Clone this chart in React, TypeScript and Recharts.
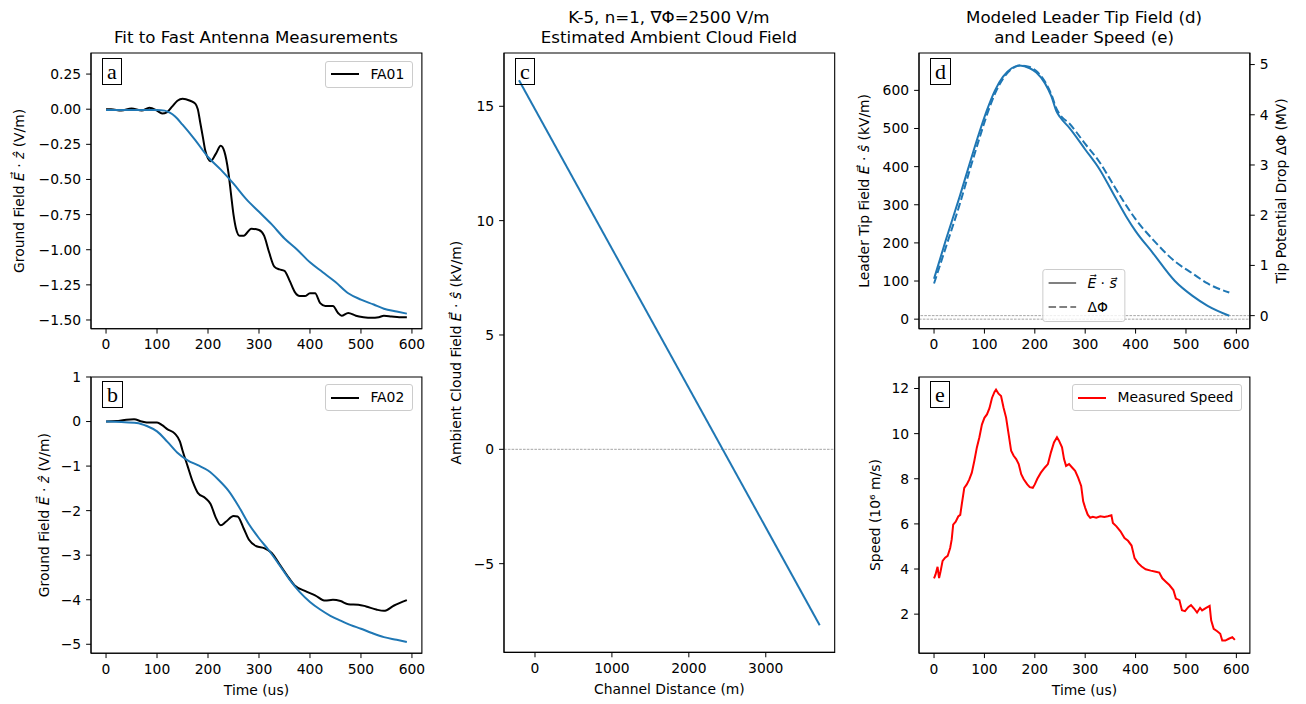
import React from 'react'
import { LineChart, Line, XAxis, YAxis, ReferenceArea, ReferenceLine, Legend } from 'recharts'

const FONT = '"DejaVu Sans", Verdana, sans-serif'
const SERIF = '"Liberation Serif", "DejaVu Serif", serif'
const BLUE = '#1f77b4'
const FS = 13.9

// tick labels
const timeTicks = [0, 100, 200, 300, 400, 500, 600]
const fieldTicksA = [0.25, 0, -0.25, -0.5, -0.75, -1, -1.25, -1.5]
const fieldTicksB = [1, 0, -1, -2, -3, -4, -5]
const distanceTicks = [0, 1000, 2000, 3000]
const ambientTicks = [15, 10, 5, 0, -5]
const tipFieldTicks = [0, 100, 200, 300, 400, 500, 600]
const potentialTicks = [0, 1, 2, 3, 4, 5]
const speedTicks = [2, 4, 6, 8, 10, 12]

// (a) FA01 measurement and model fit, V/m vs us
const fa01Time = [0, 10, 30, 50, 70, 85, 100, 110, 120, 130, 140, 150, 165, 175, 180, 185, 190, 195, 205, 215, 225, 232, 240, 245, 250, 255, 262, 270, 285, 300, 310, 320, 330, 340, 350, 360, 370, 380, 390, 400, 410, 420, 430, 445, 455, 462, 475, 490, 505, 520, 535, 545, 560, 575, 590]
const fa01Field = [0, 0, -0.01, 0.005, -0.01, 0.01, -0.01, -0.03, -0.02, 0.02, 0.06, 0.075, 0.06, 0.04, 0, -0.1, -0.2, -0.3, -0.37, -0.32, -0.26, -0.3, -0.45, -0.6, -0.75, -0.85, -0.9, -0.9, -0.85, -0.86, -0.9, -1.02, -1.12, -1.14, -1.15, -1.22, -1.3, -1.33, -1.33, -1.31, -1.31, -1.38, -1.4, -1.4, -1.45, -1.47, -1.45, -1.47, -1.48, -1.485, -1.48, -1.47, -1.475, -1.48, -1.48]
const fitATime = [0, 50, 100, 115, 125, 135, 150, 175, 200, 225, 250, 275, 300, 325, 350, 375, 400, 425, 450, 475, 500, 525, 545, 570, 590]
const fitAField = [-0.005, -0.005, -0.005, -0.01, -0.025, -0.05, -0.11, -0.22, -0.34, -0.43, -0.53, -0.64, -0.73, -0.82, -0.92, -1.0, -1.09, -1.16, -1.23, -1.31, -1.355, -1.39, -1.42, -1.44, -1.455]

// (b) FA02 measurement and model fit
const fa02Time = [0, 20, 40, 55, 70, 80, 100, 110, 120, 135, 145, 150, 160, 170, 180, 195, 205, 215, 225, 235, 250, 258, 270, 280, 295, 310, 325, 340, 355, 370, 390, 410, 430, 445, 460, 475, 495, 510, 530, 545, 565, 590]
const fa02Field = [0, 0.01, 0.04, 0.05, 0, -0.02, -0.02, -0.08, -0.17, -0.27, -0.45, -0.65, -1.0, -1.35, -1.6, -1.72, -1.85, -2.15, -2.33, -2.25, -2.12, -2.13, -2.4, -2.65, -2.8, -2.84, -2.95, -3.2, -3.45, -3.68, -3.8, -3.9, -4.02, -4.0, -4.03, -4.1, -4.11, -4.15, -4.22, -4.25, -4.13, -4.01]
const fitBTime = [0, 30, 60, 80, 100, 120, 140, 160, 180, 200, 220, 240, 260, 280, 300, 320, 340, 360, 380, 400, 420, 440, 460, 480, 500, 520, 545, 570, 590]
const fitBField = [0, -0.01, -0.03, -0.1, -0.22, -0.45, -0.7, -0.87, -0.98, -1.1, -1.3, -1.55, -1.9, -2.3, -2.62, -2.9, -3.22, -3.55, -3.83, -4.05, -4.22, -4.36, -4.47, -4.57, -4.65, -4.74, -4.84, -4.9, -4.95]

// (c) ambient cloud field along the channel, kV/m vs m
const channelDistance = [-208, 3701]
const ambientField = [16.14, -7.69]

// (d) leader tip field (kV/m) and tip potential drop (MV)
const tipTime = [0, 24, 51, 70, 90, 105, 121, 137, 154, 170, 190, 203, 220, 233, 243, 250, 269, 300, 329, 355, 381, 400, 434, 478, 513, 543, 586]
const tipField = [106, 210, 322, 405, 490, 548, 600, 636, 658, 665, 658, 647, 619, 584, 545, 530, 501, 445, 392, 331, 270, 231, 174, 100, 61, 35, 9]
const tipPotential = [0.64, 1.38, 2.22, 2.87, 3.53, 4.0, 4.42, 4.72, 4.91, 4.98, 4.95, 4.87, 4.66, 4.4, 4.12, 4.0, 3.82, 3.42, 3.05, 2.62, 2.2, 1.92, 1.52, 1.08, 0.84, 0.64, 0.46]

// (e) measured leader speed, 1e6 m/s
const speedTime = [0, 3, 7, 10, 13, 17, 22, 27, 32, 35, 38, 43, 48, 52, 55, 60, 65, 70, 75, 80, 85, 90, 95, 100, 105, 110, 115, 120, 123, 128, 133, 138, 143, 148, 153, 158, 163, 168, 173, 178, 185, 190, 196, 200, 205, 212, 220, 226, 232, 238, 244, 248, 254, 258, 262, 268, 274, 280, 286, 292, 296, 300, 305, 310, 315, 322, 330, 338, 345, 352, 355, 362, 370, 378, 385, 392, 398, 405, 412, 420, 430, 440, 447, 453, 460, 467, 475, 480, 487, 492, 498, 505, 510, 516, 522, 528, 532, 540, 547, 550, 555, 562, 568, 572, 578, 585, 592, 597]
const speedValue = [3.59, 3.76, 4.1, 3.6, 3.9, 4.36, 4.5, 4.58, 4.93, 5.3, 5.97, 6.1, 6.33, 6.4, 6.86, 7.6, 7.75, 7.97, 8.27, 8.8, 9.39, 9.84, 10.4, 10.7, 10.85, 11.13, 11.58, 11.85, 11.95, 11.77, 11.67, 11.15, 10.71, 9.98, 9.24, 9.02, 8.87, 8.65, 8.2, 7.98, 7.75, 7.63, 7.6, 7.75, 8.0, 8.27, 8.5, 8.65, 9.17, 9.61, 9.84, 9.69, 9.39, 8.87, 8.57, 8.65, 8.5, 8.35, 8.05, 7.68, 7.0, 6.71, 6.41, 6.27, 6.31, 6.27, 6.34, 6.31, 6.34, 6.38, 6.04, 5.89, 5.67, 5.37, 5.25, 5.04, 4.48, 4.26, 4.11, 3.99, 3.93, 3.88, 3.84, 3.59, 3.44, 3.29, 3.07, 2.69, 2.62, 2.17, 2.13, 2.32, 2.4, 2.25, 2.07, 2.28, 2.17, 2.28, 2.37, 1.73, 1.35, 1.24, 1.13, 0.83, 0.83, 0.91, 0.98, 0.86]

// axis limits
const X_TIME_AB: [number, number] = [-29.5, 619.5]
const X_TIME_DE: [number, number] = [-29.85, 626.85]
const Y_A: [number, number] = [-1.562, 0.4]
const Y_B: [number, number] = [-5.2, 1]
const X_C: [number, number] = [-403, 3896]
const Y_C: [number, number] = [-8.88, 17.33]
const Y_D_LEFT: [number, number] = [-25, 698]
const Y_D_RIGHT: [number, number] = [-0.26, 5.23]
const Y_E: [number, number] = [0.27, 12.51]

type Frame = { x0: number; x1: number; y0: number; y1: number }
const FRAME_A: Frame = { x0: 90.5, x1: 421.4, y0: 53.3, y1: 329 }
const FRAME_B: Frame = { x0: 90.5, x1: 421.4, y0: 376.5, y1: 652.7 }
const FRAME_C: Frame = { x0: 503.6, x1: 834.3, y0: 53.3, y1: 652.7 }
const FRAME_D: Frame = { x0: 918.6, x1: 1249.5, y0: 53.3, y1: 329 }
const FRAME_E: Frame = { x0: 918.6, x1: 1249.5, y0: 376.5, y1: 652.7 }

const PAD_L = 90
const PAD_R = 60
const PAD_T = 10
const PAD_B = 50
const X_AXIS_H = 44

const pairs = (xs: number[], ys: number[]) => xs.map((x, i) => ({ x, y: ys[i] }))
const withMinus = (s: string) => s.replace('-', '\u2212')
const fmtInt = (v: number) => withMinus(String(v))
const fmt2 = (v: number) => withMinus(v.toFixed(2))

function box(f: Frame) {
  return {
    style: { position: 'absolute' as const, left: f.x0 - PAD_L, top: f.y0 - PAD_T },
    width: f.x1 - f.x0 + PAD_L + PAD_R,
    height: f.y1 - f.y0 + PAD_T + PAD_B,
  }
}

const plainMargin = { top: PAD_T, right: PAD_R, bottom: PAD_B - X_AXIS_H, left: 0 }
const axisStyle = {
  stroke: '#000',
  tickSize: 4.9,
  interval: 0 as const,
  allowDataOverflow: true,
  tick: { fill: '#000', fontSize: FS, fontFamily: FONT },
}

type ViewBox = { x: number; y: number; width: number; height: number }

// rotated axis title beside a y axis; gap is measured from the plot edge
function SideTitle({ viewBox, gap, right, text }: { viewBox?: ViewBox; gap: number; right?: boolean; text: React.ReactNode }) {
  if (!viewBox) return null
  const cx = right ? viewBox.x + gap : viewBox.x + viewBox.width - gap
  const cy = viewBox.y + viewBox.height / 2
  return (
    <text x={cx} y={cy} dy="0.35em" transform={`rotate(-90 ${cx} ${cy})`} textAnchor="middle" fontSize={FS} fontFamily={FONT} fill="#000">
      {text}
    </text>
  )
}

function BottomTitle({ viewBox, gap, text }: { viewBox?: ViewBox; gap: number; text: string }) {
  if (!viewBox) return null
  return (
    <text x={viewBox.x + viewBox.width / 2} y={viewBox.y + gap} dy="0.35em" textAnchor="middle" fontSize={FS} fontFamily={FONT} fill="#000">
      {text}
    </text>
  )
}

const groundFieldTitle = (
  <>
    Ground Field <tspan fontStyle="italic">E{'\u20D7'}</tspan> · <tspan fontStyle="italic">ẑ</tspan> (V/m)
  </>
)

type Entry = { label: React.ReactNode; color: string; dash?: string }

function LegendBox({ entries, rowHeight }: { entries: Entry[]; rowHeight: number }) {
  return (
    <div
      style={{
        border: '1px solid #cccccc',
        borderRadius: 3,
        background: 'rgba(255,255,255,0.8)',
        padding: '5px 8px 5px 5px',
        fontSize: FS,
        fontFamily: FONT,
        color: '#000',
        whiteSpace: 'nowrap',
      }}
    >
      {entries.map((e, i) => (
        <div key={i} style={{ display: 'flex', alignItems: 'center', height: rowHeight, marginTop: i ? 7 : 0 }}>
          <svg width={28} height={4} style={{ marginRight: 11, flex: 'none' }}>
            <line x1={0} y1={2} x2={28} y2={2} stroke={e.color} strokeWidth={2} strokeDasharray={e.dash} />
          </svg>
          <span style={{ lineHeight: `${rowHeight}px` }}>{e.label}</span>
        </div>
      ))}
    </div>
  )
}

const Vec = ({ l }: { l: string }) => <span style={{ fontStyle: 'italic' }}>{l}{'\u20D7'}</span>

function PanelLetter({ frame, letter }: { frame: Frame; letter: string }) {
  return (
    <div
      style={{
        position: 'absolute',
        left: frame.x0 + 11.5,
        top: frame.y0 + 4.7,
        height: 25,
        lineHeight: '25px',
        padding: '0 4px',
        border: '1px solid #000',
        fontFamily: SERIF,
        fontSize: 22,
        color: '#000',
      }}
    >
      {letter}
    </div>
  )
}

function Title({ frame, top, lines }: { frame: Frame; top: number; lines: string[] }) {
  return (
    <div
      style={{
        position: 'absolute',
        left: frame.x0,
        width: frame.x1 - frame.x0,
        top,
        textAlign: 'center',
        fontSize: 16.67,
        lineHeight: '20px',
        fontFamily: FONT,
        color: '#000',
        whiteSpace: 'nowrap',
      }}
    >
      {lines.map((t) => (
        <div key={t}>{t}</div>
      ))}
    </div>
  )
}

export default function App() {
  const fa01 = pairs(fa01Time, fa01Field)
  const fitA = pairs(fitATime, fitAField)
  const fa02 = pairs(fa02Time, fa02Field)
  const fitB = pairs(fitBTime, fitBField)
  const ambient = pairs(channelDistance, ambientField)
  const tip = tipTime.map((x, i) => ({ x, field: tipField[i], potential: tipPotential[i] }))
  const speed = pairs(speedTime, speedValue)

  const a = box(FRAME_A)
  const b = box(FRAME_B)
  const c = box(FRAME_C)
  const d = box(FRAME_D)
  const e = box(FRAME_E)
  const dWidth = FRAME_D.x1 - FRAME_D.x0

  return (
    <div style={{ position: 'absolute', left: 0, top: 0, width: 1306, height: 704, overflow: 'hidden', background: '#fff', fontFamily: FONT }}>
      <Title frame={FRAME_A} top={28} lines={['Fit to Fast Antenna Measurements']} />
      <Title frame={FRAME_C} top={8} lines={['K-5, n=1, \u2207\u03A6=2500 V/m', 'Estimated Ambient Cloud Field']} />
      <Title frame={FRAME_D} top={8} lines={['Modeled Leader Tip Field (d)', 'and Leader Speed (e)']} />

      <div style={a.style}>
        <LineChart width={a.width} height={a.height} margin={plainMargin}>
          <XAxis type="number" dataKey="x" domain={X_TIME_AB} ticks={timeTicks} height={X_AXIS_H} tickMargin={6} {...axisStyle} />
          <YAxis type="number" domain={Y_A} ticks={fieldTicksA} width={PAD_L} tickMargin={5} tickFormatter={fmt2} {...axisStyle}
            label={<SideTitle gap={72} text={groundFieldTitle} />} />
          <ReferenceArea x1={X_TIME_AB[0]} x2={X_TIME_AB[1]} y1={Y_A[0]} y2={Y_A[1]} fill="none" stroke="#000" strokeWidth={1.1} ifOverflow="visible" />
          <Line data={fa01} dataKey="y" type="monotone" stroke="#000" strokeWidth={2} dot={false} isAnimationActive={false} />
          <Line data={fitA} dataKey="y" type="monotone" stroke={BLUE} strokeWidth={2} dot={false} isAnimationActive={false} />
          <Legend layout="horizontal" align="center" verticalAlign="middle"
            wrapperStyle={{ top: PAD_T + 7.7, right: PAD_R + 8.1, left: 'auto', width: 'auto' }}
            content={<LegendBox rowHeight={15} entries={[{ label: 'FA01', color: '#000' }]} />} />
        </LineChart>
      </div>

      <div style={b.style}>
        <LineChart width={b.width} height={b.height} margin={plainMargin}>
          <XAxis type="number" dataKey="x" domain={X_TIME_AB} ticks={timeTicks} height={X_AXIS_H} tickMargin={6} {...axisStyle}
            label={<BottomTitle gap={36.5} text="Time (us)" />} />
          <YAxis type="number" domain={Y_B} ticks={fieldTicksB} width={PAD_L} tickMargin={5} tickFormatter={fmtInt} {...axisStyle}
            label={<SideTitle gap={47} text={groundFieldTitle} />} />
          <ReferenceArea x1={X_TIME_AB[0]} x2={X_TIME_AB[1]} y1={Y_B[0]} y2={Y_B[1]} fill="none" stroke="#000" strokeWidth={1.1} ifOverflow="visible" />
          <Line data={fa02} dataKey="y" type="monotone" stroke="#000" strokeWidth={2} dot={false} isAnimationActive={false} />
          <Line data={fitB} dataKey="y" type="monotone" stroke={BLUE} strokeWidth={2} dot={false} isAnimationActive={false} />
          <Legend layout="horizontal" align="center" verticalAlign="middle"
            wrapperStyle={{ top: PAD_T + 7.8, right: PAD_R + 8.1, left: 'auto', width: 'auto' }}
            content={<LegendBox rowHeight={15} entries={[{ label: 'FA02', color: '#000' }]} />} />
        </LineChart>
      </div>

      <div style={c.style}>
        <LineChart width={c.width} height={c.height} margin={plainMargin}>
          <XAxis type="number" dataKey="x" domain={X_C} ticks={distanceTicks} height={X_AXIS_H} tickMargin={6} {...axisStyle}
            label={<BottomTitle gap={37} text="Channel Distance (m)" />} />
          <YAxis type="number" domain={Y_C} ticks={ambientTicks} width={PAD_L} tickMargin={5} tickFormatter={fmtInt} {...axisStyle}
            label={<SideTitle gap={47.5} text={<>Ambient Cloud Field <tspan fontStyle="italic">E{'\u20D7'}</tspan> · <tspan fontStyle="italic">ŝ</tspan> (kV/m)</>} />} />
          <ReferenceArea x1={X_C[0]} x2={X_C[1]} y1={Y_C[0]} y2={Y_C[1]} fill="none" stroke="#000" strokeWidth={1.1} ifOverflow="visible" />
          <ReferenceLine y={0} stroke="#808080" strokeWidth={0.7} strokeDasharray="2.6 1.2" />
          <Line data={ambient} dataKey="y" type="linear" stroke={BLUE} strokeWidth={2} dot={false} isAnimationActive={false} />
        </LineChart>
      </div>

      <div style={d.style}>
        <LineChart width={d.width} height={d.height} margin={{ top: PAD_T, right: 0, bottom: PAD_B - X_AXIS_H, left: 0 }}>
          <XAxis type="number" dataKey="x" domain={X_TIME_DE} ticks={timeTicks} height={X_AXIS_H} tickMargin={6} {...axisStyle} />
          <YAxis yAxisId="left" type="number" domain={Y_D_LEFT} ticks={tipFieldTicks} width={PAD_L} tickMargin={5} tickFormatter={fmtInt} {...axisStyle}
            label={<SideTitle gap={54.5} text={<>Leader Tip Field <tspan fontStyle="italic">E{'\u20D7'}</tspan> · <tspan fontStyle="italic">ŝ</tspan> (kV/m)</>} />} />
          <YAxis yAxisId="right" orientation="right" type="number" domain={Y_D_RIGHT} ticks={potentialTicks} width={PAD_R} tickMargin={5} tickFormatter={fmtInt} {...axisStyle}
            label={<SideTitle right gap={31.5} text="Tip Potential Drop ΔΦ (MV)" />} />
          <ReferenceArea yAxisId="left" x1={X_TIME_DE[0]} x2={X_TIME_DE[1]} y1={Y_D_LEFT[0]} y2={Y_D_LEFT[1]} fill="none" stroke="#000" strokeWidth={1.1} ifOverflow="visible" />
          <ReferenceLine yAxisId="left" y={0} stroke="#808080" strokeWidth={0.7} strokeDasharray="2.6 1.2" />
          <ReferenceLine yAxisId="right" y={0} stroke="#808080" strokeWidth={0.7} strokeDasharray="2.6 1.2" />
          <Line yAxisId="left" data={tip} dataKey="field" type="monotone" stroke={BLUE} strokeWidth={2} dot={false} isAnimationActive={false} />
          <Line yAxisId="right" data={tip} dataKey="potential" type="monotone" stroke={BLUE} strokeWidth={2} strokeDasharray="7.7 3.3" dot={false} isAnimationActive={false} />
          <Legend layout="horizontal" align="center" verticalAlign="middle"
            wrapperStyle={{ top: 'auto', bottom: PAD_B + 7.3, left: PAD_L + dWidth / 2, transform: 'translateX(-50%)', width: 'auto' }}
            content={
              <LegendBox rowHeight={17} entries={[
                { label: <><Vec l="E" /> · <Vec l="s" /></>, color: '#808080' },
                { label: 'ΔΦ', color: '#808080', dash: '7.7 3.3' },
              ]} />
            } />
        </LineChart>
      </div>

      <div style={e.style}>
        <LineChart width={e.width} height={e.height} margin={plainMargin}>
          <XAxis type="number" dataKey="x" domain={X_TIME_DE} ticks={timeTicks} height={X_AXIS_H} tickMargin={6} {...axisStyle}
            label={<BottomTitle gap={36.5} text="Time (us)" />} />
          <YAxis type="number" domain={Y_E} ticks={speedTicks} width={PAD_L} tickMargin={5} tickFormatter={fmtInt} {...axisStyle}
            label={<SideTitle gap={43.5} text="Speed (10⁶ m/s)" />} />
          <ReferenceArea x1={X_TIME_DE[0]} x2={X_TIME_DE[1]} y1={Y_E[0]} y2={Y_E[1]} fill="none" stroke="#000" strokeWidth={1.1} ifOverflow="visible" />
          <Line data={speed} dataKey="y" type="linear" stroke="#ff0000" strokeWidth={2} dot={false} isAnimationActive={false} />
          <Legend layout="horizontal" align="center" verticalAlign="middle"
            wrapperStyle={{ top: PAD_T + 7.5, right: PAD_R + 7.2, left: 'auto', width: 'auto' }}
            content={<LegendBox rowHeight={15} entries={[{ label: 'Measured Speed', color: '#ff0000' }]} />} />
        </LineChart>
      </div>

      <PanelLetter frame={FRAME_A} letter="a" />
      <PanelLetter frame={FRAME_B} letter="b" />
      <PanelLetter frame={FRAME_C} letter="c" />
      <PanelLetter frame={FRAME_D} letter="d" />
      <PanelLetter frame={FRAME_E} letter="e" />
    </div>
  )
}
